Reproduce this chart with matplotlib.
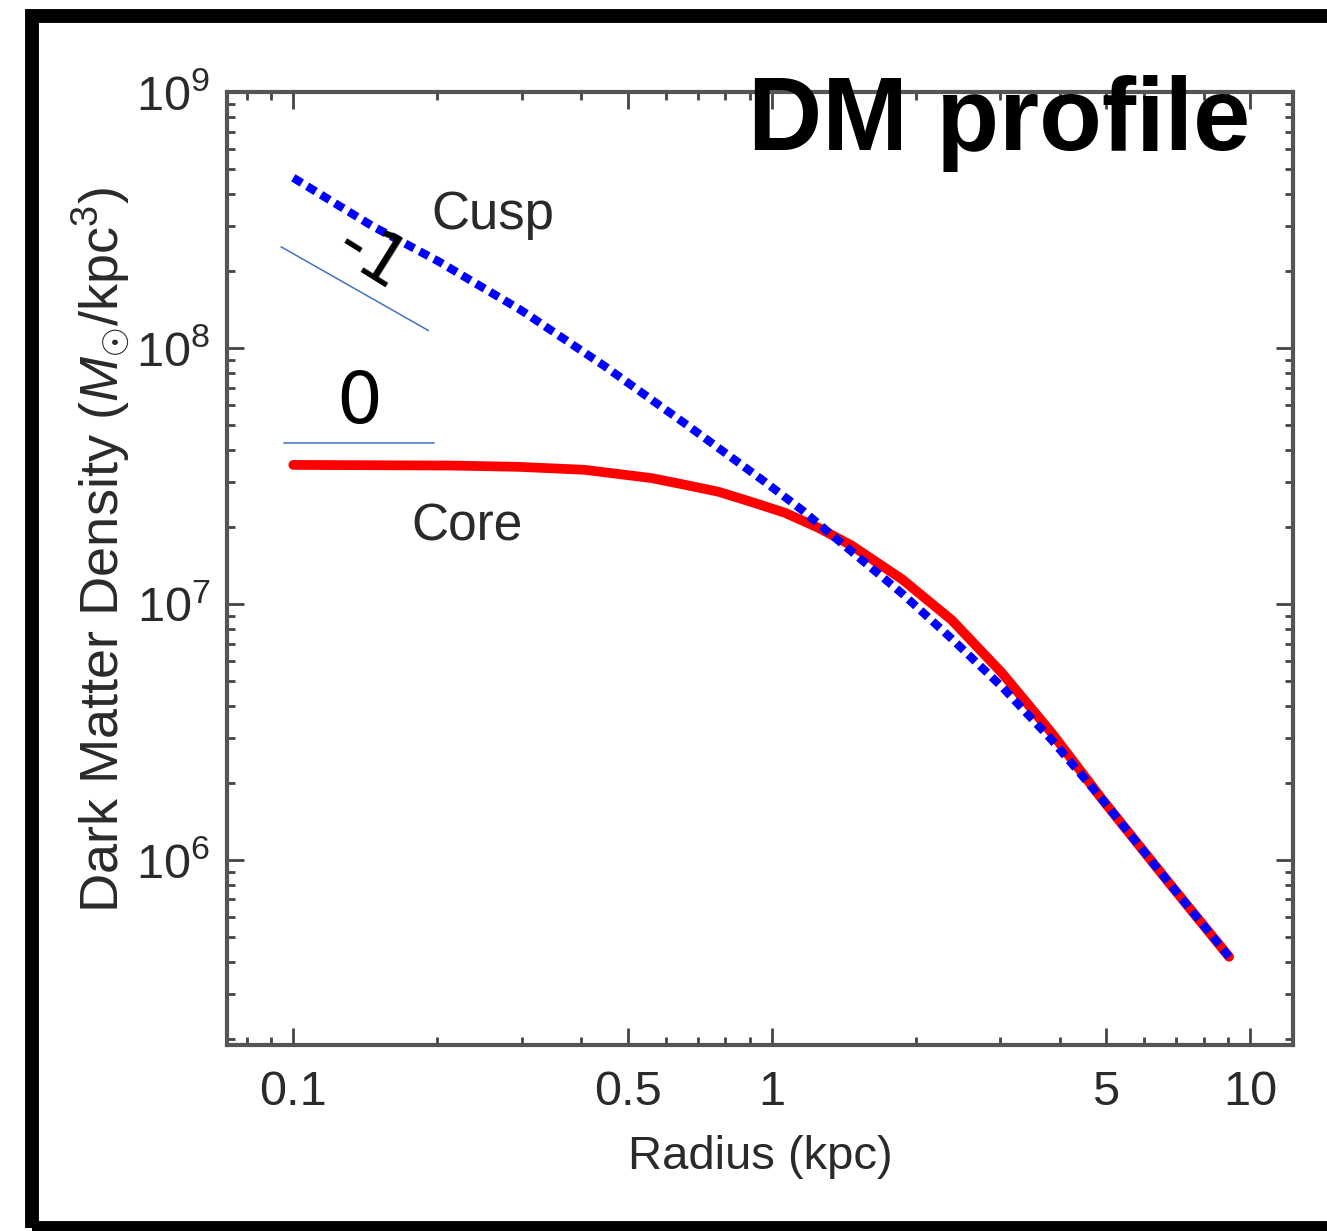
"""
plot.py
-------
Dark matter density profile: NFW-like cusp vs cored profile (log-log).
"""

import matplotlib
matplotlib.use("Agg")
import matplotlib.pyplot as plt
from matplotlib.patches import Rectangle


# ---------------------------------------------------------------------------
# Data
# ---------------------------------------------------------------------------

cusp_radius  = [0.100, 0.146, 0.201, 0.300, 0.447, 0.670, 0.967, 1.156, 1.47,
                1.871, 2.38, 3.03, 3.85, 4.90, 6.77, 9.04]
cusp_density = [4.62e8, 3.00e8, 2.18e8, 1.40e8, 8.50e7, 4.95e7, 3.00e7, 2.33e7,
                1.60e7, 1.10e7, 7.30e6, 4.74e6, 2.94e6, 1.73e6, 8.13e5, 4.18e5]

core_radius  = [0.100, 0.214, 0.296, 0.406, 0.561, 0.658, 0.775, 0.908, 1.065,
                1.254, 1.470, 1.871, 2.38, 3.03, 3.85, 4.90, 6.77, 9.04]
core_density = [3.49e7, 3.47e7, 3.43e7, 3.34e7, 3.10e7, 2.92e7, 2.74e7, 2.50e7,
                2.27e7, 1.98e7, 1.69e7, 1.25e7, 8.64e6, 5.37e6, 3.13e6, 1.73e6,
                8.13e5, 4.18e5]

# slope guide lines
slope_m1_radius  = [0.0944, 0.1915]
slope_m1_density = [2.48e8, 1.17e8]
slope_0_radius   = [0.0958, 0.197]
slope_0_density  = [4.26e7, 4.26e7]

x_ticks       = [0.1, 0.5, 1, 5, 10]
x_tick_labels = ["0.1", "0.5", "1", "5", "10"]
x_minor       = [0.08, 0.09, 0.2, 0.3, 0.4, 0.6, 0.7, 0.8, 0.9,
                 2, 3, 4, 6, 7, 8, 9]

SANS = ["Liberation Sans", "DejaVu Sans"]
TEXT_GREY = "#2a2a2a"


# ---------------------------------------------------------------------------
# Plot
# ---------------------------------------------------------------------------

plt.rcParams["font.family"] = SANS
plt.rcParams["mathtext.fontset"] = "custom"
plt.rcParams["mathtext.rm"] = "Liberation Sans"
plt.rcParams["mathtext.it"] = "Liberation Sans:italic"

fig = plt.figure(figsize=(13.27, 12.31), dpi=100)
ax = fig.add_axes([0.1711, 0.1511, 0.8033, 0.7742])

ax.plot(core_radius, core_density, color="#ff0000", lw=7,
        solid_capstyle="round", solid_joinstyle="round", zorder=3)
ax.plot(cusp_radius, cusp_density, color="#0000ff", lw=6,
        linestyle=(0, (1.2, 0.75)), zorder=4)

ax.plot(slope_m1_radius, slope_m1_density, color="#4472c4", lw=1.1, zorder=2)
ax.plot(slope_0_radius, slope_0_density, color="#4472c4", lw=1.1, zorder=2)

ax.set_xscale("log")
ax.set_yscale("log")
ax.set_xlim(0.0727, 12.3)
ax.set_ylim(1.89e5, 1e9)

ax.set_xticks(x_ticks)
ax.set_xticklabels(x_tick_labels)
ax.set_xticks(x_minor, minor=True)
ax.xaxis.set_minor_formatter(plt.NullFormatter())

ax.tick_params(which="both", direction="in", top=True, right=True,
               colors="#444444", labelcolor=TEXT_GREY, width=2)
ax.tick_params(which="major", length=12, labelsize=35)
ax.tick_params(which="minor", length=6)
ax.tick_params(axis="x", which="major", pad=18)
ax.tick_params(axis="y", which="major", pad=12)
for spine in ax.spines.values():
    spine.set_linewidth(3)
    spine.set_color("#555555")

ax.set_xlabel("Radius (kpc)", fontsize=34, color=TEXT_GREY)
ax.xaxis.set_label_coords(0.5, -0.094)
ax.set_ylabel(r"Dark Matter Density ($M_{\odot}$/kpc$^3$)",
              fontsize=39, color=TEXT_GREY)
ax.yaxis.set_label_coords(-0.088, 0.519)

# curve annotations
ax.text(0.1944, 3.31e8, "Cusp", fontsize=38, color=TEXT_GREY,
        ha="left", va="center")
ax.text(0.1766, 2.0e7, "Core", fontsize=37, color=TEXT_GREY,
        ha="left", va="center")
ax.text(0.1457, 2.25e8, "-1", fontsize=50, family="DejaVu Sans",
        rotation=-32, ha="center", va="center", color="black", zorder=5)
ax.text(0.1374, 6.09e7, "0", fontsize=52, family="DejaVu Sans",
        ha="center", va="center", color="black")

fig.text(748 / 1327, 1 - 150 / 1231, "DM profile", fontsize=74,
         fontweight="bold", family=SANS,
         ha="left", va="baseline", color="black", zorder=10)

# thick black frame around the whole panel (right side runs off the image)
fig.patches.append(Rectangle((32 / 1327, 0.0024), 1.05, 0.987 - 0.0024,
                             transform=fig.transFigure, fill=False,
                             edgecolor="black", linewidth=10, zorder=0))

fig.savefig("out.png", dpi=100)
